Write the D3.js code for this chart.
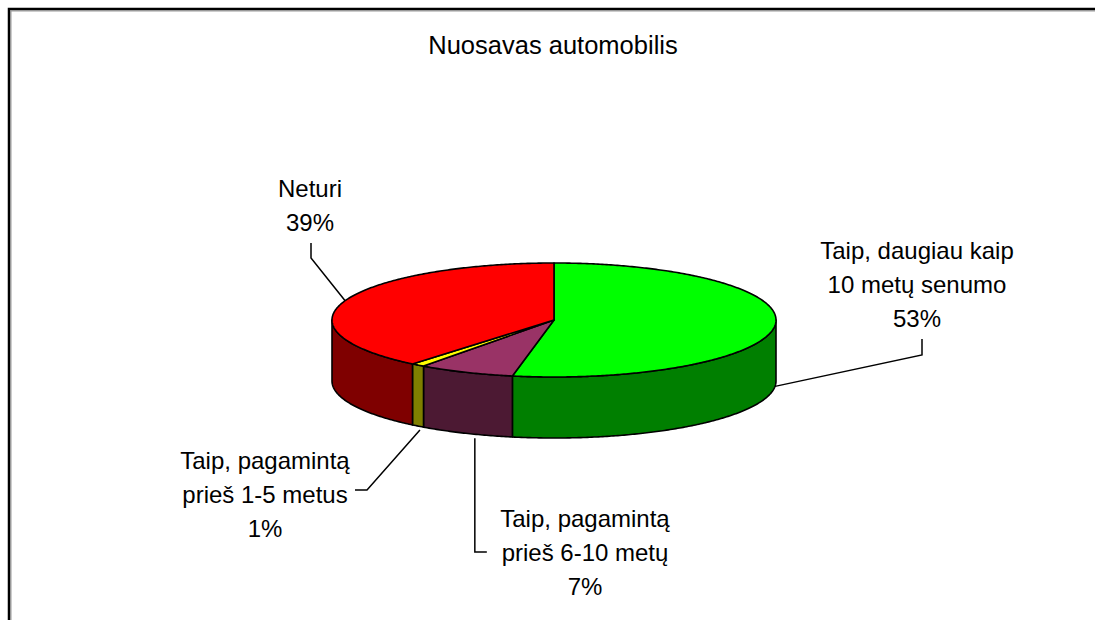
<!DOCTYPE html>
<html>
<head>
<meta charset="utf-8">
<script src="https://cdn.jsdelivr.net/npm/d3@7/dist/d3.min.js"></script>
<style>
  html, body { margin: 0; padding: 0; background: #fff; }
  svg { display: block; }
  text { font-family: "Liberation Sans", Arial, sans-serif; fill: #000; }
</style>
</head>
<body>
<svg id="chart" width="1095" height="620"></svg>
<script>
// Survey answers: own a car?
const categories = [
  ["Taip, daugiau kaip", "10 metų senumo"],
  ["Taip, pagamintą", "prieš 6-10 metų"],
  ["Taip, pagamintą", "prieš 1-5 metus"],
  ["Neturi"]
];
const values = [53, 7, 1, 39];
const topColors  = ["#00ff00", "#993366", "#ffff00", "#ff0000"];
const sideColors = ["#007f00", "#4c1933", "#7f7f00", "#7f0000"];
const title = "Nuosavas automobilis";

// label placement: centre x, first baseline y, and leader elbow
const labelPos = [
  { x: 917, y: 259, elbowX: 922, elbowY: 355, kind: "up" },
  { x: 585, y: 527, elbowX: null, elbowY: 552, kind: "vert" },
  { x: 265, y: 469, elbowX: 367, elbowY: 490, kind: "side" },
  { x: 310, y: 197, elbowX: 311, elbowY: 258, kind: "up" }
];

const W = 1095, H = 620;
const svg = d3.select("#chart");

// frame
svg.append("path")
  .attr("d", `M11,${H + 5} L11,11 L${W + 5},11`)
  .attr("fill", "none").attr("stroke", "#999").attr("stroke-width", 1);
svg.append("path")
  .attr("d", `M9,${H + 5} L9,9 L${W + 5},9`)
  .attr("fill", "none").attr("stroke", "#000").attr("stroke-width", 2.5);

// title
svg.append("text")
  .attr("x", 553).attr("y", 54)
  .attr("text-anchor", "middle")
  .style("font-size", "25.5px")
  .text(title);

// 3D pie geometry
const cx = 554, cy = 320, rx = 222, ry = 57, depth = 61;
const pie = d3.pie().sort(null).value(d => d)(values);

const pt = (a, dy = 0) => [cx + rx * Math.sin(a), cy - ry * Math.cos(a) + dy];
const arcPts = (a0, a1, dy = 0) => {
  const n = Math.max(2, Math.ceil(Math.abs(a1 - a0) / 0.01));
  return d3.range(n + 1).map(i => pt(a0 + (a1 - a0) * i / n, dy));
};
const line = d3.line();

const g = svg.append("g");

// outer walls, only on the front half
const frontStart = Math.PI / 2, frontEnd = 3 * Math.PI / 2;
pie.forEach((s, i) => {
  const a0 = Math.max(s.startAngle, frontStart);
  const a1 = Math.min(s.endAngle, frontEnd);
  if (a1 <= a0) return;
  const pts = arcPts(a0, a1).concat(arcPts(a1, a0, depth));
  g.append("path")
    .attr("d", line(pts) + "Z")
    .attr("fill", sideColors[i])
    .attr("stroke", "#000").attr("stroke-width", 1.6)
    .attr("stroke-linejoin", "round");
});

// top faces
pie.forEach((s, i) => {
  const pts = [[cx, cy]].concat(arcPts(s.startAngle, s.endAngle));
  g.append("path")
    .attr("d", line(pts) + "Z")
    .attr("fill", topColors[i])
    .attr("stroke", "#000").attr("stroke-width", 1.6)
    .attr("stroke-linejoin", "round");
});

// labels and leader lines
const lh = 34;
pie.forEach((s, i) => {
  const mid = (s.startAngle + s.endAngle) / 2;
  const p = labelPos[i];
  const lines = categories[i].concat([values[i] + "%"]);
  const t = svg.append("text")
    .attr("text-anchor", "middle")
    .style("font-size", "24px");
  lines.forEach((l, k) => {
    t.append("tspan").attr("x", p.x).attr("y", p.y + k * lh).text(l);
  });

  // anchor on the pie rim (bottom of the wall when in front)
  const front = mid > frontStart && mid < frontEnd;
  const anchor = pt(mid, front ? depth : 0);
  let pts;
  if (p.kind === "up") {
    const top = p.y + (lines.length - 1) * lh + 12;
    pts = [[p.elbowX, top], [p.elbowX, p.elbowY], anchor];
  } else if (p.kind === "vert") {
    const x = anchor[0] + 9;
    pts = [[x, anchor[1] + 5], [x, p.elbowY], [x + 12, p.elbowY]];
  } else {
    pts = [[p.elbowX - 12, p.elbowY], [p.elbowX, p.elbowY], [anchor[0] + 2, anchor[1] + 4]];
  }
  svg.append("path")
    .attr("d", line(pts))
    .attr("fill", "none")
    .attr("stroke", "#000").attr("stroke-width", 1.5);
});
</script>
</body>
</html>
